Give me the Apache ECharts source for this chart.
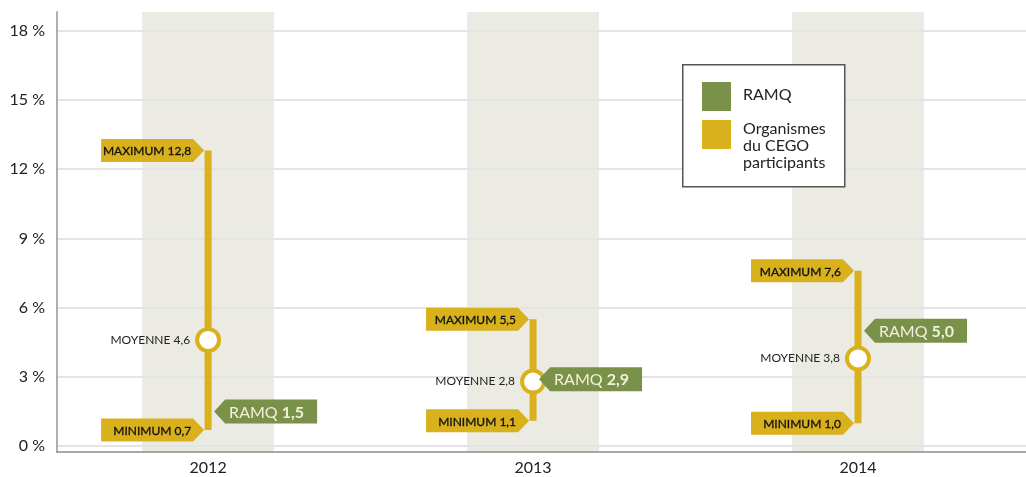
<!DOCTYPE html>
<html>
<head>
<meta charset="utf-8">
<script src="https://cdn.jsdelivr.net/npm/echarts@6/dist/echarts.min.js"></script>
<style>
  html, body { margin: 0; padding: 0; background: #fff; }
  #chart { width: 1026px; height: 477px; }
</style>
</head>
<body>
<div id="chart"></div>
<script>
// data
const years = ['2012', '2013', '2014'];
const minimums = [0.7, 1.1, 1.0];
const maximums = [12.8, 5.5, 7.6];
const moyennes = [4.6, 2.8, 3.8];
const ramq = [1.5, 2.9, 5.0];
const yTicks = [0, 3, 6, 9, 12, 15, 18];

const YELLOW = '#d8b11d';
const GREEN = '#7a914a';
const FONT = 'Lato';
const Y_MIN = -0.25, Y_MAX = 18.8;

const fmt = v => v.toFixed(1).replace('.', ',');

// little arrow tags
function tagRight(x, y, w, h, d) {
  return [[x - w, y - h / 2], [x - d, y - h / 2], [x, y], [x - d, y + h / 2], [x - w, y + h / 2]];
}
function tagLeft(x, y, w, h, d) {
  return [[x, y], [x + d, y - h / 2], [x + w, y - h / 2], [x + w, y + h / 2], [x + d, y + h / 2]];
}

function yellowTag(prefix) {
  return function (params, api) {
    const v = api.value(1);
    const c = api.coord([api.value(0), v]);
    const tipX = c[0] - 4;
    return {
      type: 'group',
      children: [
        { type: 'polygon', shape: { points: tagRight(tipX, c[1], 103, 23, 11) }, style: { fill: YELLOW } },
        {
          type: 'text', x: tipX - 13, y: c[1] + 1,
          style: {
            text: prefix + ' ' + fmt(v), fill: '#111', fontSize: 12, fontFamily: FONT,
            fontWeight: 'normal', align: 'right', verticalAlign: 'middle',
            stroke: '#111', lineWidth: 0.3
          }
        }
      ]
    };
  };
}

const chart = echarts.init(document.getElementById('chart'));

chart.setOption({
  animation: false,
  grid: { left: 57, right: 0, top: 12, bottom: 25 },
  xAxis: {
    type: 'value',
    min: -0.465,
    max: 2.517,
    axisLine: { onZero: false, lineStyle: { color: '#8c8c8c', width: 1.5 } },
    axisTick: { show: false },
    splitLine: { show: false },
    axisLabel: {
      customValues: [0, 1, 2],
      formatter: v => years[Math.round(v)] || '',
      color: '#222', fontSize: 16, fontFamily: FONT, margin: 8
    }
  },
  yAxis: {
    type: 'value',
    min: Y_MIN,
    max: Y_MAX,
    axisLine: { show: true, onZero: false, lineStyle: { color: '#b0b0b0', width: 2 } },
    axisTick: { show: false, customValues: yTicks },
    splitLine: { show: true, lineStyle: { color: '#e4e4e4', width: 2 } },
    axisLabel: {
      customValues: yTicks,
      formatter: v => v + ' %',
      color: '#222', fontSize: 16, fontFamily: FONT, margin: 12
    }
  },
  graphic: [
    { type: 'rect', left: 682, top: 64, shape: { width: 162, height: 122 },
      style: { fill: '#fff', stroke: '#555', lineWidth: 1.5 }, z: 10 },
    { type: 'rect', left: 702, top: 82, shape: { width: 29, height: 29 }, style: { fill: GREEN }, z: 11 },
    { type: 'rect', left: 702, top: 120, shape: { width: 29, height: 29 }, style: { fill: YELLOW }, z: 11 },
    { type: 'text', left: 743, top: 87, z: 11,
      style: { text: 'RAMQ', fill: '#222', fontSize: 16, fontFamily: FONT } },
    { type: 'text', left: 743, top: 120, z: 11,
      style: { text: 'Organismes\ndu CEGO\nparticipants', fill: '#222', fontSize: 16, fontFamily: FONT, lineHeight: 17 } }
  ],
  series: [
    {
      // shaded year bands
      type: 'custom',
      z: -1,
      silent: true,
      encode: { x: 0, y: 1 },
      data: years.map((y, i) => [i, 0]),
      renderItem: (params, api) => {
        const i = api.value(0);
        const p1 = api.coord([i - 0.203, Y_MAX]);
        const p2 = api.coord([i + 0.203, Y_MIN]);
        return { type: 'rect', shape: { x: p1[0], y: p1[1], width: p2[0] - p1[0], height: p2[1] - p1[1] },
          style: { fill: '#ecebe3' } };
      }
    },
    {
      // min-max line
      type: 'custom',
      encode: { x: 0, y: [1, 2] },
      data: years.map((y, i) => [i, minimums[i], maximums[i]]),
      renderItem: (params, api) => {
        const top = api.coord([api.value(0), api.value(2)]);
        const bot = api.coord([api.value(0), api.value(1)]);
        return { type: 'rect', shape: { x: top[0] - 3.5, y: top[1], width: 7, height: bot[1] - top[1] },
          style: { fill: YELLOW } };
      }
    },
    {
      type: 'custom',
      encode: { x: 0, y: 1 },
      data: years.map((y, i) => [i, maximums[i]]),
      renderItem: yellowTag('MAXIMUM')
    },
    {
      type: 'custom',
      encode: { x: 0, y: 1 },
      data: years.map((y, i) => [i, minimums[i]]),
      renderItem: yellowTag('MINIMUM')
    },
    {
      type: 'scatter',
      z: 3,
      symbol: 'circle',
      symbolSize: 22,
      itemStyle: { color: '#fff', borderColor: YELLOW, borderWidth: 4, opacity: 1 },
      label: {
        show: true, position: 'left', distance: 5,
        formatter: p => 'MOYENNE ' + fmt(p.value[1]),
        color: '#222', fontSize: 12, fontFamily: FONT
      },
      data: years.map((y, i) => [i, moyennes[i]])
    },
    {
      type: 'custom',
      z: 4,
      encode: { x: 0, y: 1 },
      data: years.map((y, i) => [i, ramq[i]]),
      renderItem: (params, api) => {
        const v = api.value(1);
        const c = api.coord([api.value(0), v]);
        const tipX = c[0] + 6;
        return {
          type: 'group',
          children: [
            { type: 'polygon', shape: { points: tagLeft(tipX, c[1], 103, 24, 11) }, style: { fill: GREEN } },
            {
              type: 'text', x: tipX + 15, y: c[1] + 1,
              style: {
                text: '{r|RAMQ }{b|' + fmt(v) + '}',
                align: 'left', verticalAlign: 'middle',
                rich: {
                  r: { fill: '#f3f0dc', fontSize: 16, fontFamily: FONT },
                  b: { fill: '#f3f0dc', fontSize: 16, fontFamily: FONT, fontWeight: 'bold' }
                }
              }
            }
          ]
        };
      }
    }
  ]
});
</script>
</body>
</html>
